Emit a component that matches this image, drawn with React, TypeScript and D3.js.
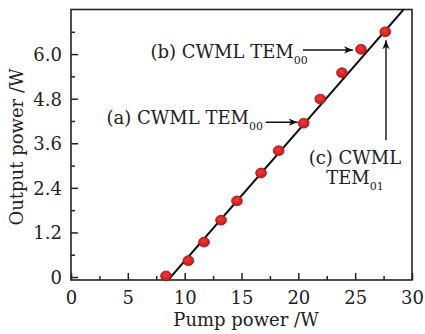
import React, { useEffect, useRef } from "react";
import * as d3 from "d3";

// measured points: pump power (W) vs CW mode-locked output power (W)
const PUMP = [8.36, 10.32, 11.7, 13.2, 14.6, 16.72, 18.27, 20.47, 21.93, 23.84, 25.51, 27.65];
const OUTPUT = [0.03, 0.44, 0.94, 1.53, 2.05, 2.8, 3.4, 4.14, 4.79, 5.5, 6.13, 6.6];

// linear fit, drawn across the frame
const FIT_PUMP = [8.55, 29.26];
const FIT_OUTPUT = [-0.08, 7.2];

const X_TICKS = [0, 5, 10, 15, 20, 25, 30];
const X_MINOR = [2.5, 7.5, 12.5, 17.5, 22.5, 27.5];
const Y_TICKS = [0, 1.2, 2.4, 3.6, 4.8, 6.0];
const Y_TICK_LABELS = ["0", "1.2", "2.4", "3.6", "4.8", "6.0"];
const Y_MINOR = [0.6, 1.8, 3.0, 4.2, 5.4, 6.6];

const X_LABEL = "Pump power /W";
const Y_LABEL = "Output power /W";
const NOTE_A = ["(a) CWML TEM", "00"];
const NOTE_B = ["(b) CWML TEM", "00"];
const NOTE_C = ["(c) CWML", "TEM", "01"];

const FONT = "'DejaVu Serif', serif";

const App = () => {
    const ref = useRef<HTMLDivElement>(null);

    useEffect(() => {
        document.body.style.margin = "0";
        const W = 425;
        const H = 334;
        const left = 71, right = 412, top = 9.5, bottom = 280;

        const svg = d3
            .select(ref.current)
            .html("")
            .append("svg")
            .attr("width", W)
            .attr("height", H)
            .style("display", "block")
            .style("background", "#fff");

        const x = d3.scaleLinear().domain([0, 30]).range([left, right]);
        const y = d3.scaleLinear().domain([-0.08, 7.2]).range([bottom, top]);

        // frame
        svg.append("rect")
            .attr("x", left)
            .attr("y", top)
            .attr("width", right - left)
            .attr("height", bottom - top)
            .attr("fill", "none")
            .attr("stroke", "#222")
            .attr("stroke-width", 1.6);

        // x axis
        const gx = svg.append("g").attr("transform", `translate(0,${bottom})`);
        gx.call(d3.axisBottom(x).tickValues(X_TICKS).tickSizeInner(-7).tickSizeOuter(0));
        gx.append("g").call(
            d3.axisBottom(x).tickValues(X_MINOR).tickSizeInner(-4).tickSizeOuter(0).tickFormat(() => "")
        );
        gx.selectAll(".domain").remove();
        gx.selectAll("line").attr("stroke", "#222").attr("stroke-width", 1.5);
        gx.selectAll("text")
            .attr("y", 24)
            .attr("dy", null)
            .attr("font-family", FONT)
            .attr("font-size", 18)
            .attr("fill", "#222");

        // y axis
        const gy = svg.append("g").attr("transform", `translate(${left},0)`);
        gy.call(
            d3.axisLeft(y)
                .tickValues(Y_TICKS)
                .tickSizeInner(-7)
                .tickSizeOuter(0)
                .tickPadding(9)
                .tickFormat((d, i) => Y_TICK_LABELS[i])
        );
        gy.append("g").call(
            d3.axisLeft(y).tickValues(Y_MINOR).tickSizeInner(-4).tickSizeOuter(0).tickFormat(() => "")
        );
        gy.selectAll(".domain").remove();
        gy.selectAll("line").attr("stroke", "#222").attr("stroke-width", 1.5);
        gy.selectAll("text")
            .attr("dy", "0.36em")
            .attr("font-family", FONT)
            .attr("font-size", 18)
            .attr("fill", "#222");

        // axis titles
        svg.append("text")
            .attr("x", 246)
            .attr("y", 326)
            .attr("text-anchor", "middle")
            .attr("font-family", FONT)
            .attr("font-size", 18)
            .attr("fill", "#222")
            .text(X_LABEL);

        svg.append("text")
            .attr("transform", "translate(23,147) rotate(-90)")
            .attr("text-anchor", "middle")
            .attr("font-family", FONT)
            .attr("font-size", 18)
            .attr("fill", "#222")
            .text(Y_LABEL);

        // fit line
        svg.append("clipPath")
            .attr("id", "plot-clip")
            .append("rect")
            .attr("x", left)
            .attr("y", top)
            .attr("width", right - left)
            .attr("height", bottom - top);

        const fit = FIT_PUMP.map((p, i) => [p, FIT_OUTPUT[i]] as [number, number]);
        svg.append("path")
            .attr("clip-path", "url(#plot-clip)")
            .attr("d", d3.line<[number, number]>().x((d) => x(d[0])).y((d) => y(d[1]))(fit) ?? "")
            .attr("fill", "none")
            .attr("stroke", "#111")
            .attr("stroke-width", 2);

        // points
        const grad = svg.append("defs")
            .append("radialGradient")
            .attr("id", "dot-fill")
            .attr("cx", "45%")
            .attr("cy", "40%")
            .attr("r", "60%");
        grad.append("stop").attr("offset", "0%").attr("stop-color", "#e8403a");
        grad.append("stop").attr("offset", "100%").attr("stop-color", "#c8161a");

        svg.append("g")
            .selectAll("ellipse")
            .data(PUMP.map((p, i) => ({ p, o: OUTPUT[i] })))
            .join("ellipse")
            .attr("cx", (d) => x(d.p))
            .attr("cy", (d) => y(d.o))
            .attr("rx", 5.4)
            .attr("ry", 4.9)
            .attr("fill", "url(#dot-fill)")
            .attr("stroke", "#a51015")
            .attr("stroke-width", 0.8);

        // arrows
        const arrow = (x1: number, y1: number, x2: number, y2: number) => {
            svg.append("line")
                .attr("x1", x1)
                .attr("y1", y1)
                .attr("x2", x2)
                .attr("y2", y2)
                .attr("stroke", "#111")
                .attr("stroke-width", 1.4);
            const a = Math.atan2(y2 - y1, x2 - x1);
            const pt = (l: number, w: number) =>
                [x2 - l * Math.cos(a) - w * Math.sin(a), y2 - l * Math.sin(a) + w * Math.cos(a)].join(",");
            svg.append("path")
                .attr("d", `M${x2},${y2}L${pt(9, 3.6)}L${pt(6.5, 0)}L${pt(9, -3.6)}Z`)
                .attr("fill", "#111");
        };

        const note = (tx: number, ty: number, main: string, sub: string, anchor = "start") => {
            const t = svg.append("text")
                .attr("x", tx)
                .attr("y", ty)
                .attr("text-anchor", anchor)
                .attr("font-family", FONT)
                .attr("font-size", 18)
                .attr("fill", "#222");
            t.append("tspan").text(main);
            t.append("tspan").attr("font-size", 11).attr("dy", 6).text(sub);
        };

        // (a) -> 8th point
        const ax = x(PUMP[7]) - 6, ay = y(OUTPUT[7]) - 1;
        arrow(ax - 32, ay, ax, ay);
        note(106.5, 124, NOTE_A[0], NOTE_A[1]);

        // (b) -> 11th point
        const bx = x(PUMP[10]) - 8, by = y(OUTPUT[10]) + 0.7;
        arrow(bx - 50, by, bx, by);
        note(150.5, 58, NOTE_B[0], NOTE_B[1]);

        // (c) -> last point
        const cx = x(PUMP[11]) + 0.7, cy = y(OUTPUT[11]) + 8.5;
        arrow(cx, cy + 100, cx, cy);
        svg.append("text")
            .attr("x", 355)
            .attr("y", 164)
            .attr("text-anchor", "middle")
            .attr("font-family", FONT)
            .attr("font-size", 18)
            .attr("fill", "#222")
            .text(NOTE_C[0]);
        note(355, 184, NOTE_C[1], NOTE_C[2], "middle");
    }, []);

    return <div ref={ref} />;
};

export default App;
